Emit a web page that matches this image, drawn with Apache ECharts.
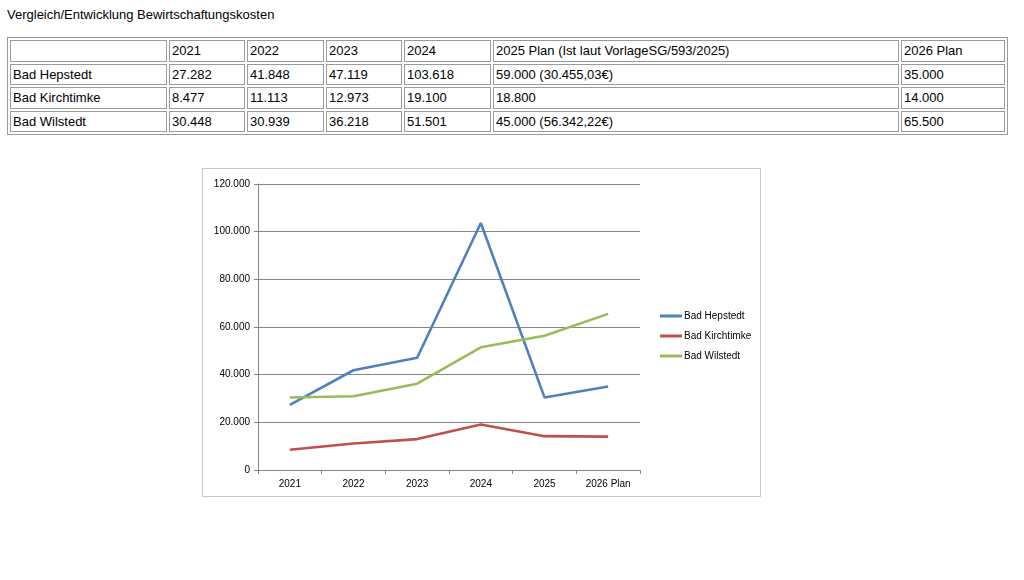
<!DOCTYPE html>
<html>
<head>
<meta charset="utf-8">
<script src="https://cdn.jsdelivr.net/npm/echarts@6/dist/echarts.min.js"></script>
<style>
  body { margin: 0; background: #fff; font-family: "Liberation Sans", Arial, sans-serif; }
  #title { position: absolute; left: 7px; top: 7px; font-size: 13px; color: #000; }
  #tbl { position: absolute; left: 7px; top: 37px; width: 1001px; height: 98px; table-layout: fixed;
         border: 1px solid #9a9a9a; border-collapse: separate; border-spacing: 2px; }
  #tbl td { border: 1px solid #9a9a9a; font-size: 13px; padding: 0 2px; height: 18px; color: #000;
            white-space: nowrap; overflow: hidden; }
  #box { position: absolute; left: 202px; top: 168px; width: 557px; height: 327px;
         border: 1px solid #b9cbd9; }
</style>
</head>
<body>
<div id="title">Vergleich/Entwicklung Bewirtschaftungskosten</div>
<table id="tbl"></table>
<div id="box"></div>
<script>
var tableHead = ['', '2021', '2022', '2023', '2024', '2025 Plan (Ist laut VorlageSG/593/2025)', '2026 Plan'];
var tableRows = [
  ['Bad Hepstedt', '27.282', '41.848', '47.119', '103.618', '59.000 (30.455,03€)', '35.000'],
  ['Bad Kirchtimke', '8.477', '11.113', '12.973', '19.100', '18.800', '14.000'],
  ['Bad Wilstedt', '30.448', '30.939', '36.218', '51.501', '45.000 (56.342,22€)', '65.500']
];
var colWidths = [151, 70, 71, 70, 81, 400, 98];

var categories = ['2021', '2022', '2023', '2024', '2025', '2026 Plan'];
var hepstedt = [27282, 41848, 47119, 103618, 30455, 35000];
var kirchtimke = [8477, 11113, 12973, 19100, 14200, 14000];
var wilstedt = [30448, 30939, 36218, 51501, 56342, 65500];

// table
var tbl = document.getElementById('tbl');
[tableHead].concat(tableRows).forEach(function(row) {
  var tr = document.createElement('tr');
  row.forEach(function(cell, i) {
    var td = document.createElement('td');
    td.textContent = cell;
    td.style.width = colWidths[i] + 'px';
    tr.appendChild(td);
  });
  tbl.appendChild(tr);
});

function fmt(v) {
  return v === 0 ? '0' : String(v).replace(/\B(?=(\d{3})+(?!\d))/g, '.');
}

var chart = echarts.init(document.getElementById('box'));
var lineW = 2.6;
chart.setOption({
  animation: false,
  textStyle: { fontFamily: 'Liberation Sans, Arial, sans-serif' },
  grid: { left: 55, top: 15, width: 382, height: 286, containLabel: false },
  legend: {
    orient: 'vertical',
    left: 452,
    top: 136,
    itemGap: 8,
    itemWidth: 22,
    itemHeight: 3,
    icon: 'rect',
    textStyle: { fontSize: 10, lineHeight: 12, color: '#000', padding: [0, 0, 0, -3] },
    data: ['Bad Hepstedt', 'Bad Kirchtimke', 'Bad Wilstedt']
  },
  xAxis: {
    type: 'category',
    data: categories,
    boundaryGap: true,
    axisLine: { lineStyle: { color: '#868686', width: 1 } },
    axisTick: { show: true, length: 4, inside: false, lineStyle: { color: '#868686' } },
    axisLabel: { fontSize: 10, color: '#000', margin: 9 }
  },
  yAxis: {
    type: 'value',
    min: 0,
    max: 120000,
    interval: 20000,
    axisLine: { show: true, lineStyle: { color: '#868686', width: 1 } },
    axisTick: { show: true, length: 4, lineStyle: { color: '#868686' } },
    axisLabel: { fontSize: 10, color: '#000', margin: 8, formatter: fmt },
    splitLine: { lineStyle: { color: '#868686', width: 1 } }
  },
  series: [
    { name: 'Bad Hepstedt', type: 'line', data: hepstedt, showSymbol: false,
      lineStyle: { color: '#4F81BD', width: lineW }, itemStyle: { color: '#4F81BD' } },
    { name: 'Bad Kirchtimke', type: 'line', data: kirchtimke, showSymbol: false,
      lineStyle: { color: '#C0504D', width: lineW }, itemStyle: { color: '#C0504D' } },
    { name: 'Bad Wilstedt', type: 'line', data: wilstedt, showSymbol: false,
      lineStyle: { color: '#9BBB59', width: lineW }, itemStyle: { color: '#9BBB59' } }
  ]
});
</script>
</body>
</html>
